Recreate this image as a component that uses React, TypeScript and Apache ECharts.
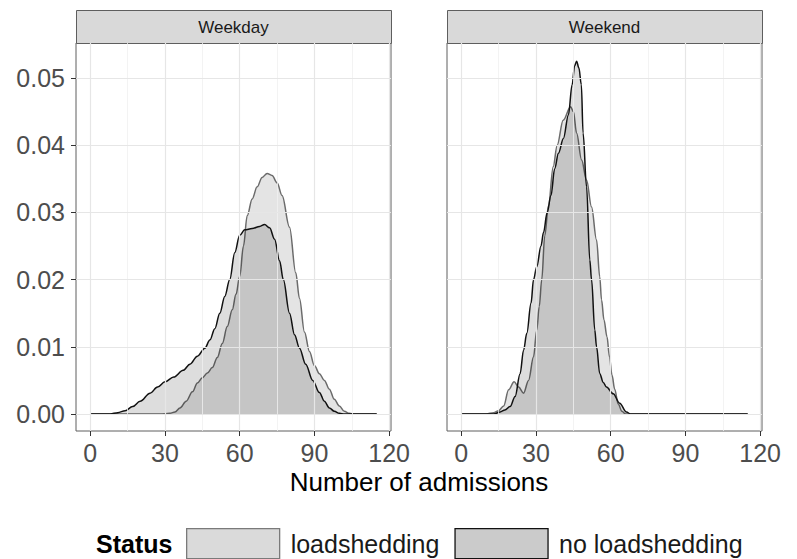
import React, { useEffect, useRef } from "react";
import * as echarts from "echarts";

const facets = ["Weekday", "Weekend"];
const statuses = ["loadshedding", "no loadshedding"];
const xTicks = [0, 30, 60, 90, 120];
const xMinorGrid = [15, 45, 75, 105];
const yTicks = [0, 0.01, 0.02, 0.03, 0.04, 0.05];
const yMinorGrid = [0.005, 0.015, 0.025, 0.035, 0.045, 0.055];
const xTitle = "Number of admissions";
const legendTitle = "Status";

// density estimates: [admissions, density]
const weekdayLoadshedding: [number, number][] = [
  [0, 0], [28, 0], [32, 0.0001], [34, 0.0003], [36, 0.0009], [38.5, 0.0019], [41, 0.0033],
  [43, 0.0046], [45, 0.0054], [47, 0.0061], [49, 0.0069], [51, 0.0084], [53, 0.0105],
  [55, 0.013], [57, 0.0155], [58.5, 0.0178], [60, 0.0205], [61.5, 0.025], [63, 0.0295],
  [65, 0.032], [67, 0.0338], [69, 0.0352], [71, 0.0358], [73, 0.0355], [75, 0.0344],
  [77, 0.0325], [80, 0.0278], [82.5, 0.021], [84, 0.0172], [86, 0.0122], [88, 0.0093],
  [90, 0.0072], [92, 0.006], [94, 0.005], [96, 0.0037], [98, 0.0022], [100, 0.0012],
  [102, 0.0004], [104, 0.0001], [106, 0], [115, 0],
];
const weekdayNoLoadshedding: [number, number][] = [
  [0, 0], [8, 0], [11, 0.0002], [14, 0.0005], [17, 0.0011], [20, 0.0019], [24, 0.0031],
  [27, 0.004], [30, 0.0048], [33.5, 0.0055], [37.3, 0.0065], [40, 0.0074], [43, 0.0086],
  [46, 0.0098], [48, 0.011], [50, 0.0127], [52, 0.015], [54, 0.0175], [56, 0.02],
  [58, 0.024], [60, 0.0266], [62, 0.0274], [65, 0.0276], [68, 0.0279], [70, 0.0282],
  [72, 0.0277], [74, 0.026], [76, 0.0228], [77.5, 0.02], [80, 0.015], [82, 0.0118],
  [84, 0.0098], [86.5, 0.0074], [89.3, 0.005], [92, 0.0032], [94, 0.0019], [96, 0.0009],
  [98, 0.0004], [100, 0.0001], [102, 0], [115, 0],
];
const weekendLoadshedding: [number, number][] = [
  [0, 0], [10, 0], [13, 0.0002], [15, 0.0005], [17, 0.0012], [19, 0.0036], [21.2, 0.0048],
  [23, 0.004], [25, 0.0031], [27, 0.005], [29, 0.0085], [30.3, 0.0125], [31.3, 0.016],
  [32.3, 0.02], [33.5, 0.0265], [35, 0.031], [36.9, 0.0368], [38.5, 0.04], [40.9, 0.0437],
  [43.9, 0.0457], [45, 0.045], [46.3, 0.0418], [48.3, 0.0378], [50.3, 0.0348],
  [52.3, 0.0308], [54.3, 0.0259], [55.6, 0.0204], [56.3, 0.017], [57.3, 0.014],
  [58.5, 0.0115], [59.5, 0.0085], [60.5, 0.0058], [61.6, 0.0037], [63, 0.0015],
  [64.5, 0.0004], [66, 0], [115, 0],
];
const weekendNoLoadshedding: [number, number][] = [
  [0, 0], [13, 0], [15.6, 0.0003], [17.5, 0.0006], [19.6, 0.0011], [21.6, 0.0026],
  [23.6, 0.006], [25, 0.0095], [26.3, 0.012], [28, 0.0165], [29, 0.02], [30.3, 0.0219],
  [32, 0.025], [33, 0.027], [34.5, 0.03], [36, 0.0325], [37.5, 0.0365], [39, 0.0388],
  [41, 0.041], [43, 0.0445], [44.5, 0.049], [45.5, 0.0518], [46.3, 0.0525], [47.2, 0.0515],
  [48.2, 0.049], [48.9, 0.0418], [50.3, 0.0338], [51.6, 0.0229], [52.3, 0.02],
  [53.6, 0.0125], [54.3, 0.01], [55.6, 0.006], [57, 0.0047], [58.3, 0.004], [61, 0.003],
  [63.6, 0.0016], [66.3, 0.0003], [68, 0], [115, 0],
];

const facetData = [
  [weekdayLoadshedding, weekdayNoLoadshedding],
  [weekendLoadshedding, weekendNoLoadshedding],
];

const FONT = "'Liberation Sans', Arial, Helvetica, sans-serif";
const lineColors = ["#6b6b6b", "#111111"];
const fillColors = ["rgba(0,0,0,0.15)", "rgba(0,0,0,0.19)"];
const legendFill = ["#dadada", "#cbcbcb"];

export default function App() {
  const ref = useRef<HTMLDivElement>(null);
  useEffect(() => {
    if (!ref.current) return;
    const chart = echarts.init(ref.current, null, { renderer: "svg" });

    const panelLefts = [76, 447];
    const panelTop = 43;
    const panelW = 315;
    const panelH = 388;
    const xMin = -5.75;
    const xMax = 120.75;
    const yMin = -0.00253;
    const yMax = 0.0552;

    const grids = panelLefts.map((l) => ({
      left: l,
      top: panelTop,
      width: panelW,
      height: panelH,
      show: true,
      backgroundColor: "#ffffff",
      borderColor: "#5e5e5e",
      borderWidth: 1,
      containLabel: false,
    }));

    const xAxes = panelLefts.map((_, i) => ({
      type: "value",
      gridIndex: i,
      min: xMin,
      max: xMax,
      axisLine: { show: false, onZero: false },
      axisTick: {
        show: true,
        length: 5,
        customValues: xTicks,
        lineStyle: { color: "#333333", width: 1 },
      },
      axisLabel: {
        show: true,
        customValues: xTicks,
        margin: 9,
        fontSize: 25,
        color: "#4d4d4d",
        fontFamily: FONT,
      },
      splitLine: { show: false },
      minorSplitLine: { show: false },
    }));

    const yAxes = panelLefts.map((_, i) => ({
      type: "value",
      gridIndex: i,
      min: yMin,
      max: yMax,
      axisLine: { show: false, onZero: false },
      axisTick: {
        show: i === 0,
        length: 5,
        customValues: yTicks,
        lineStyle: { color: "#333333", width: 1 },
      },
      axisLabel: {
        show: i === 0,
        customValues: yTicks,
        margin: 11,
        fontSize: 25,
        color: "#4d4d4d",
        fontFamily: FONT,
        formatter: (v: number) => v.toFixed(2),
      },
      splitLine: { show: false },
      minorSplitLine: { show: false },
    }));

    const major = { color: "#e6e6e6", width: 1.2, type: "solid" };
    const minor = { color: "#f0f0f0", width: 0.8, type: "solid" };
    const gridLineData = [
      ...xMinorGrid.map((v) => ({ xAxis: v, lineStyle: minor })),
      ...yMinorGrid.map((v) => ({ yAxis: v, lineStyle: minor })),
      ...xTicks.map((v) => ({ xAxis: v, lineStyle: major })),
      ...yTicks.map((v) => ({ yAxis: v, lineStyle: major })),
    ];

    const series: any[] = [];
    panelLefts.forEach((_, i) => {
      series.push({
        type: "line",
        name: "__grid" + i,
        xAxisIndex: i,
        yAxisIndex: i,
        data: [],
        silent: true,
        z: 0,
        markLine: {
          silent: true,
          symbol: ["none", "none"],
          label: { show: false },
          emphasis: { disabled: true },
          animation: false,
          data: gridLineData,
        },
      });
      statuses.forEach((s, k) => {
        series.push({
          type: "line",
          name: s,
          xAxisIndex: i,
          yAxisIndex: i,
          data: facetData[i][k],
          smooth: 0.35,
          smoothMonotone: "x",
          symbol: "none",
          showSymbol: false,
          silent: true,
          z: 2 + k,
          lineStyle: { color: lineColors[k], width: 1.5 },
          itemStyle: { color: legendFill[k] },
          areaStyle: { color: fillColors[k], origin: "auto" },
          emphasis: { disabled: true },
        });
      });
    });

    const graphics: any[] = [];
    panelLefts.forEach((l, i) => {
      graphics.push({
        type: "rect",
        left: l,
        top: 10,
        shape: { width: panelW, height: panelTop - 10 },
        style: { fill: "#d9d9d9", stroke: "#5e5e5e", lineWidth: 1 },
        silent: true,
      });
      graphics.push({
        type: "text",
        x: l + panelW / 2,
        y: (10 + panelTop) / 2 + 1,
        style: {
          text: facets[i],
          fontSize: 17,
          fontFamily: FONT,
          fill: "#1a1a1a",
          textAlign: "center",
          textVerticalAlign: "middle",
        },
        silent: true,
      });
    });
    graphics.push({
      type: "text",
      x: (panelLefts[0] + panelLefts[1] + panelW) / 2,
      y: 482,
      style: {
        text: xTitle,
        fontSize: 26,
        fontFamily: FONT,
        fill: "#000000",
        textAlign: "center",
        textVerticalAlign: "middle",
      },
      silent: true,
    });
    graphics.push({
      type: "text",
      x: 96,
      y: 544,
      style: {
        text: legendTitle,
        fontSize: 25,
        fontWeight: "bold",
        fontFamily: FONT,
        fill: "#000000",
        textAlign: "left",
        textVerticalAlign: "middle",
      },
      silent: true,
    });

    chart.setOption({
      animation: false,
      backgroundColor: "#ffffff",
      grid: grids,
      xAxis: xAxes,
      yAxis: yAxes,
      legend: {
        left: 186,
        top: 528,
        padding: 0,
        icon: "rect",
        itemWidth: 93,
        itemHeight: 30,
        itemGap: 15,
        selectedMode: false,
        textStyle: {
          fontSize: 25,
          fontFamily: FONT,
          color: "#1a1a1a",
          padding: [0, 0, 0, 6],
        },
        data: statuses.map((s, k) => ({
          name: s,
          itemStyle: {
            color: legendFill[k],
            borderColor: k === 0 ? "#7a7a7a" : "#111111",
            borderWidth: 1.3,
          },
        })),
      },
      graphic: graphics,
      series,
    });

    return () => chart.dispose();
  }, []);
  return (
    <div
      ref={ref}
      style={{ position: "absolute", left: 0, top: 0, width: 797, height: 559 }}
    />
  );
}
